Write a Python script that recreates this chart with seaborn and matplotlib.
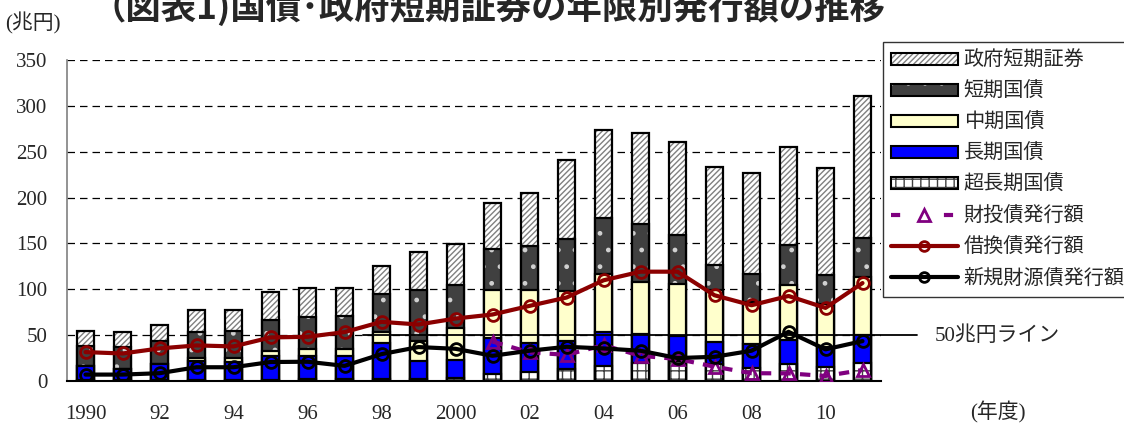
import numpy as np
import pandas as pd
import matplotlib
matplotlib.use("Agg")
import matplotlib.pyplot as plt
import seaborn as sns
from matplotlib.patches import Patch
from matplotlib.lines import Line2D
from matplotlib.legend_handler import HandlerTuple

# ---------------- data (兆円) ----------------
years = [str(y) for y in range(1990, 2012)]
xlabels = ["1990", "", "92", "", "94", "", "96", "", "98", "", "2000", "",
           "02", "", "04", "", "06", "", "08", "", "10", ""]
ytick_vals = [0, 50, 100, 150, 200, 250, 300, 350]

super_long = [1, 1, 1, 1, 1, 1, 2, 2, 2, 2, 3.6, 7.3, 9.5, 12.7, 16.3, 19.2, 22, 18.1, 14.5, 18.1, 15.6, 19.2]
long_term = [15, 12.5, 17, 20.5, 20, 25.8, 25.2, 25.5, 39.7, 19.7, 19.2, 39.7, 32.2, 30.8, 36.6, 31.9, 26.9, 23.9, 25.4, 26.5, 21.7, 30.8]
medium = [0, 0, 0, 4, 4.4, 5.8, 7.9, 6.9, 11.6, 22.1, 35.2, 51.9, 57.2, 54.3, 63.4, 56.9, 57.3, 56.9, 46.3, 59.7, 47.2, 63.4]
short = [22.4, 24, 26, 28.2, 29, 34.4, 34.8, 36.3, 41.3, 55.1, 46.3, 45.3, 47.8, 56.9, 61.2, 62.7, 52.5, 27.9, 30.8, 43.5, 30.7, 42.4]
sgs = [16.6, 15.7, 17, 23.2, 23, 30.5, 31.5, 30.7, 30.8, 41.3, 45.4, 49.6, 58, 86.3, 96.4, 99.2, 102.2, 106.1, 109.4, 106.9, 117, 155.1]

refunding = [31.5, 30, 35.5, 38.8, 37.7, 47.5, 48.2, 53.3, 64.5, 61.6, 68.1, 72.5, 81.9, 91, 109.8, 119.2, 119.2, 93.5, 82.6, 92.7, 79.7, 106.8]
new_fin = [7, 7, 8.5, 15, 15, 20.7, 21, 16.5, 29.3, 37, 35.1, 27.5, 33, 37.3, 35.5, 33, 25, 26.4, 33, 53.6, 34.5, 43.5]
filp = [np.nan] * 11 + [43, 31.2, 28.5, 39, 27.5, 24, 15.6, 8.5, 8.3, 5.5, 12]

line_50 = 50

# ---------------- style ----------------
sns.set_style("white")
plt.rcParams["font.family"] = ["Liberation Serif", "Noto Sans CJK JP"]
plt.rcParams["hatch.linewidth"] = 1.0

fig = plt.figure(figsize=(11.24, 4.24), dpi=100)
ax = fig.add_axes([67 / 1124, 43 / 424, 814 / 1124, 321 / 424])

# stacked bars (drawn as cumulative overlays, tallest first)
c1 = np.array(super_long)
c2 = c1 + np.array(long_term)
c3 = c2 + np.array(medium)
c4 = c3 + np.array(short)
c5 = c4 + np.array(sgs)

layers = [
    (c5, "white", "#808080", "//////"),
    (c4, "#404040", "#d0d0d0", "."),
    (c3, "#FFFFCC", "#FFFFCC", None),
    (c2, "#0000FF", "#0000FF", None),
    (c1, "white", "#404040", "++"),
]
bw = 0.45
for cum, fc, hc, hatch in layers:
    df = pd.DataFrame({"year": years, "val": cum})
    sns.barplot(data=df, x="year", y="val", order=years, color=fc, saturation=1,
                width=bw, linewidth=0, edgecolor=hc, hatch=hatch, errorbar=None, ax=ax)
    sns.barplot(data=df, x="year", y="val", order=years, color="black", fill=False,
                width=bw, linewidth=1.6, errorbar=None, ax=ax)

xpos = np.arange(len(years))
sns.lineplot(x=xpos, y=filp, color="#800080", linewidth=3, linestyle=(0, (2.5, 2.2)),
             marker="^", markersize=9, markerfacecolor="none", markeredgecolor="#800080",
             markeredgewidth=2, ax=ax, zorder=5)
sns.lineplot(x=xpos, y=refunding, color="#8B0000", linewidth=3,
             marker="o", markersize=8.5, markerfacecolor="none", markeredgecolor="#8B0000",
             markeredgewidth=2, ax=ax, zorder=6)
sns.lineplot(x=xpos, y=new_fin, color="black", linewidth=3,
             marker="o", markersize=8.5, markerfacecolor="none", markeredgecolor="black",
             markeredgewidth=2, ax=ax, zorder=6)

# axes
ax.set_xlim(-0.5, len(years) - 0.5)
ax.set_ylim(0, 350)
ax.set_yticks(ytick_vals)
ax.set_yticklabels([str(v) for v in ytick_vals], fontsize=15)
ax.set_xticks(xpos)
ax.set_xticklabels(xlabels, fontsize=15)
ax.set_xticks(np.arange(len(years) + 1) - 0.5, minor=True)
ax.tick_params(axis="x", which="major", length=0, pad=17)
ax.tick_params(axis="x", which="minor", length=6, width=1, color="black", direction="out")
ax.tick_params(axis="y", length=0, pad=14)
ax.set_xlabel("")
ax.set_ylabel("")
for s in ["top", "right"]:
    ax.spines[s].set_visible(False)
ax.spines["left"].set_color("#808080")
ax.spines["left"].set_linewidth(1.2)
ax.spines["bottom"].set_color("black")
ax.spines["bottom"].set_linewidth(1.5)

ax.yaxis.grid(True, linestyle=(0, (6, 4)), color="black", linewidth=0.9)
ax.xaxis.grid(False)
ax.set_axisbelow(True)

# 50兆円 line
x0 = (7.5 + 0.5) / len(years)
ax.axhline(line_50, xmin=x0, xmax=(917 - 67) / 814, color="black", linewidth=1.3,
           clip_on=False, zorder=4)
fig.text(935 / 1124, 1 - 336 / 424, "50兆円ライン", fontsize=15, va="center", ha="left")

# texts
fig.text(5 / 1124, 1 - 23 / 424, "(兆円)", fontsize=15, va="center", ha="left")
fig.text(970 / 1124, 1 - 412 / 424, "(年度)", fontsize=15, va="center", ha="left")
fig.text(488 / 1124, 1 - 19 / 424, "（図表1)国債･政府短期証券の年限別発行額の推移",
         fontsize=25.5, fontweight="bold", va="baseline", ha="center",
         family=["Noto Sans CJK JP"])

# legend
h_sgs = (Patch(facecolor="white", edgecolor="#808080", hatch="//////", linewidth=0),
         Patch(fill=False, edgecolor="black", linewidth=1.5))
h_short = (Patch(facecolor="#404040", edgecolor="#d0d0d0", hatch=".", linewidth=0),
           Patch(fill=False, edgecolor="black", linewidth=1.5))
h_med = Patch(facecolor="#FFFFCC", edgecolor="black", linewidth=1.5)
h_long = Patch(facecolor="#0000FF", edgecolor="black", linewidth=1.5)
h_super = (Patch(facecolor="white", edgecolor="#404040", hatch="++", linewidth=0),
           Patch(fill=False, edgecolor="black", linewidth=1.5))
h_filp = Line2D([], [], color="#800080", linewidth=3, linestyle=(0, (2.2, 10.5)),
                marker="^", markersize=8, markerfacecolor="none",
                markeredgecolor="#800080", markeredgewidth=2)
h_ref = Line2D([], [], color="#8B0000", linewidth=3, marker="o", markersize=7,
               markerfacecolor="none", markeredgecolor="#8B0000", markeredgewidth=2)
h_new = Line2D([], [], color="black", linewidth=3, marker="o", markersize=7,
               markerfacecolor="none", markeredgecolor="black", markeredgewidth=2)
handles = [h_sgs, h_short, h_med, h_long, h_super, h_filp, h_ref, h_new]
labels = ["政府短期証券", "短期国債", "中期国債", "長期国債", "超長期国債",
          "財投債発行額", "借換債発行額", "新規財源債発行額"]
leg = fig.legend(handles, labels, loc="upper left",
                 bbox_to_anchor=(883 / 1124, 1 - 42 / 424), borderaxespad=0,
                 handler_map={tuple: HandlerTuple(ndivide=1, pad=0)},
                 prop={"family": ["Noto Sans CJK JP"], "size": 14.5},
                 handlelength=3.3, handleheight=0.5, handletextpad=0.3,
                 labelspacing=0.5, borderpad=0.4, frameon=True, fancybox=False)
leg.get_frame().set_edgecolor("black")
leg.get_frame().set_linewidth(1.0)

fig.savefig("out.png", dpi=100)
